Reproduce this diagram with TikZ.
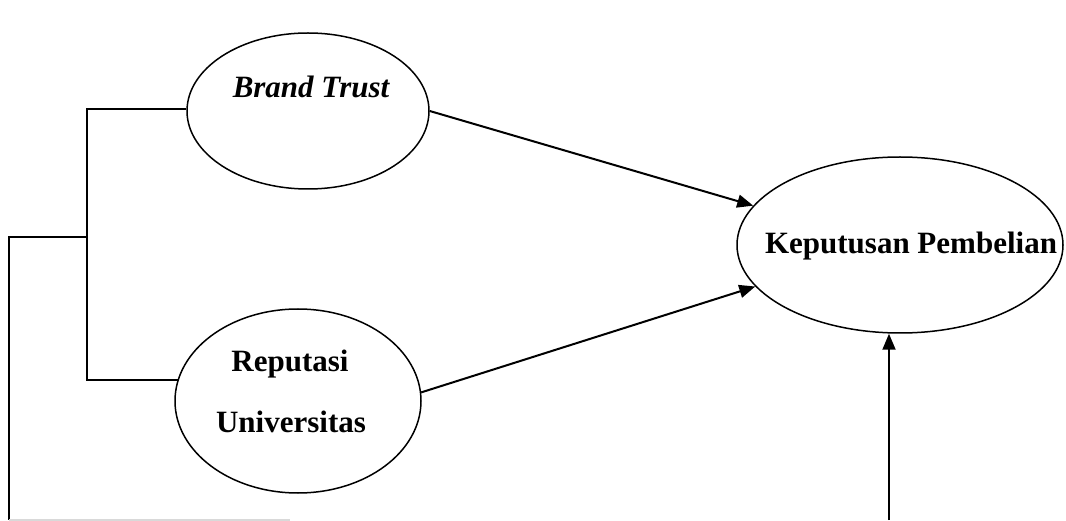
\documentclass[tikz,border=0pt]{standalone}
\usepackage{fontspec}
\setmainfont{Liberation Serif}
\usetikzlibrary{shapes.geometric,arrows.meta}
\begin{document}
\begin{tikzpicture}[x=1pt,y=-1pt,
  oval/.style={draw,ellipse,line width=1.5pt,inner sep=0pt},
  lbl/.style={font=\fontsize{31}{36}\selectfont\bfseries},
  conn/.style={line width=2pt},
  arrow/.style={line width=2pt,-{Triangle[length=16pt,width=13pt]}}]
\useasboundingbox (0,0) rectangle (1066,521);
\node[oval,minimum width=242pt,minimum height=156pt] (bt) at (308,111) {};
\node[oval,minimum width=246pt,minimum height=184pt] (ru) at (298,401) {};
\node[oval,minimum width=326pt,minimum height=176pt] (kp) at (900,245) {};
\node[lbl,font=\fontsize{31}{36}\selectfont\bfseries\itshape] (btt) at (311,87) {Brand Trust};
\node[lbl] (rut1) at (290,364) {Reputasi};
\node[lbl] (rut2) at (291,422) {Universitas};
\node[lbl] (kpt) at (911,246) {Keputusan Pembelian};
\coordinate (j1) at (87,237);
\coordinate (c0) at (9,237);
\coordinate (c1) at (9,520);
\coordinate (c2) at (290,520);
\coordinate (c4) at (889,520);
\draw[conn] (bt.179) -| (j1) |- (ru.170);
\draw[conn] (j1) -- (c0) -- (c1);
\draw[black!15,line width=1.5pt] (c1) -- (c2);
\draw[arrow] (bt.east) -- (kp.165);
\draw[arrow] (ru.4) -- (kp.196);
\draw[arrow] (c4) -- (c4 |- kp.south);
\end{tikzpicture}
\end{document}
